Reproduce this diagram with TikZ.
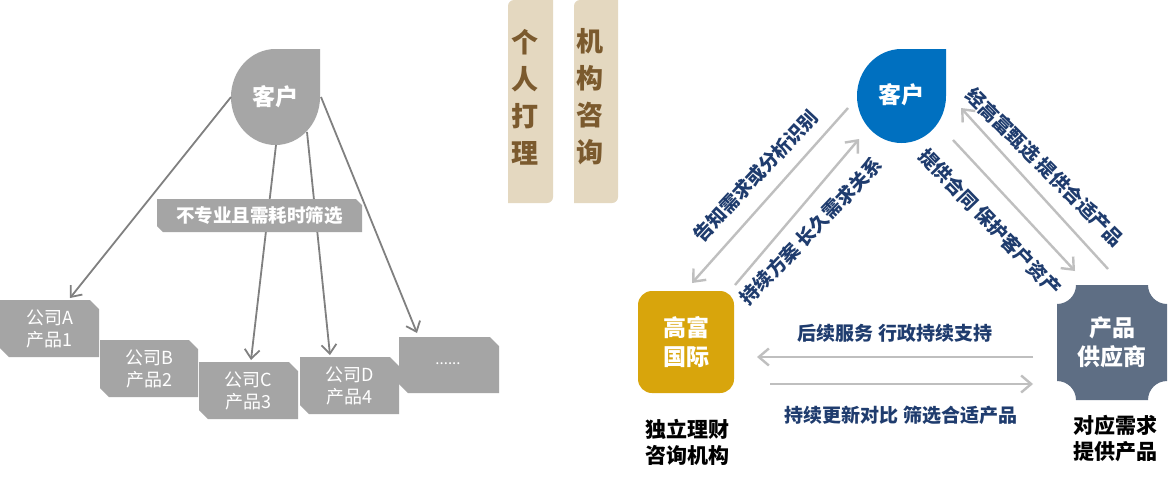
\documentclass[tikz,border=0pt]{standalone}
\usepackage{fontspec}
\setmainfont{Noto Sans CJK SC}
\usetikzlibrary{arrows.meta,calc}
\definecolor{dropgray}{HTML}{A6A6A6}
\definecolor{boxgray}{HTML}{A5A5A5}
\definecolor{arrdark}{HTML}{808080}
\definecolor{arrlight}{HTML}{BFBFBF}
\definecolor{tanfill}{HTML}{E4D8C0}
\definecolor{browntext}{HTML}{7B5A2E}
\definecolor{dropblue}{HTML}{0070C0}
\definecolor{goldfill}{HTML}{D8A50C}
\definecolor{slatefill}{HTML}{5E6E84}
\definecolor{navytext}{HTML}{1F3C6E}
\begin{document}
\begin{tikzpicture}[x=1pt,y=-1pt,
  arrL/.style={draw=arrdark, line width=1.8pt, -{Straight Barb[length=9pt,width=15pt]}},
  arrR/.style={draw=arrlight, line width=2.4pt, -{Straight Barb[length=10pt,width=17pt]}},
  snipbox/.style={inner sep=0pt, minimum width=99pt, minimum height=57pt, text=white, align=center,
    font=\fontsize{18}{22}\selectfont,
    path picture={\fill[boxgray] (path picture bounding box.north west)
      -- ([xshift=-9pt]path picture bounding box.north east)
      -- ([yshift=-9pt]path picture bounding box.north east)
      -- (path picture bounding box.south east)
      -- ([xshift=9pt]path picture bounding box.south west)
      -- ([yshift=9pt]path picture bounding box.south west) -- cycle;}},
  lblbox/.style={inner sep=0pt, minimum width=205pt, minimum height=33pt, text=white,
    font=\fontsize{18.5}{22}\selectfont\bfseries,
    path picture={\fill[boxgray] (path picture bounding box.north west)
      -- ([xshift=-6pt]path picture bounding box.north east)
      -- ([yshift=-6pt]path picture bounding box.north east)
      -- (path picture bounding box.south east)
      -- ([xshift=6pt]path picture bounding box.south west)
      -- ([yshift=6pt]path picture bounding box.south west) -- cycle;}},
  droptext/.style={circle, minimum size=92pt, inner sep=0pt, text=white, font=\fontsize{23}{26}\selectfont\bfseries},
  bartext/.style={inner sep=0pt, text=browntext, align=center, font=\fontsize{27}{37}\selectfont\bfseries},
  whitebold/.style={text=white, align=center, font=\fontsize{23}{28.5}\selectfont\bfseries},
  navylbl/.style={text=navytext, inner sep=0pt, font=\fontsize{19}{22}\selectfont\bfseries},
  blacklbl/.style={text=black, align=center, inner sep=0pt, font=\fontsize{21}{26}\selectfont\bfseries}
]
\useasboundingbox (0,0) rectangle (1170,480);
\fill[white] (0,0) rectangle (1170,480);

% ---------- left part ----------
\fill[dropgray] (275.5,49) -- (320,49) -- (320,97)
  arc[start angle=0,end angle=270,x radius=44.5,y radius=48] -- cycle;
\node[droptext] (cl) at (275.5,97) {客户};

\node[snipbox] (A) at (49.5,328.5) {公司A\\产品1};
\node[snipbox, minimum width=98pt] (B) at (149,368.5) {公司B\\产品2};
\node[snipbox] (C) at (248.5,390.5) {公司C\\产品3};
\node[snipbox] (D) at (349.5,385.5) {公司D\\产品4};
\node[snipbox, minimum width=100pt, minimum height=56pt] (E) at (449,365) {};
\node[text=white, font=\fontsize{15}{18}\selectfont, inner sep=0pt] (Edots) at (448,364) {......};

\draw[arrL] ([shift={(-44.5,0)}]cl.center) -- ([shift={(20.5,-30.5)}]A.center);
\draw[arrL] ([shift={(0.5,48)}]cl.center) -- ([shift={(2.5,-30.5)}]C.center);
\draw[arrL] ([shift={(31.5,35)}]cl.center) -- ([shift={(-19.5,-30.5)}]D.center);
\draw[arrL] ([shift={(45.5,0)}]cl.center) -- ([shift={(-32,-32)}]E.center);

\node[lblbox] (lb) at (259.5,215.5) {不专业且需耗时筛选};

% ---------- middle bars ----------
\fill[tanfill] (508,203) -- (508,6) arc[start angle=180,end angle=270,radius=6]
  -- (553,0) -- (553,197) arc[start angle=0,end angle=90,radius=6] -- cycle;
\fill[tanfill] (574,203) -- (574,6) arc[start angle=180,end angle=270,radius=6]
  -- (618,0) -- (618,197) arc[start angle=0,end angle=90,radius=6] -- cycle;
\node[bartext] (bar1) at (525,97) {个\\人\\打\\理};
\node[bartext] (bar2) at (590,97) {机\\构\\咨\\询};

% ---------- right part ----------
\fill[dropblue] (901.5,49) -- (946,49) -- (946,96)
  arc[start angle=0,end angle=270,x radius=44.5,y radius=47] -- cycle;
\node[droptext] (cr) at (901.5,95) {客户};

\fill[goldfill, rounded corners=14pt] (638,291) rectangle (734,393);
\node[whitebold, minimum width=96pt, minimum height=102pt] (gf) at (686,342) {高富\\国际};

\fill[slatefill] (1076,285) -- (1148,285) arc[start angle=180,end angle=90,radius=19]
  -- (1167,381) arc[start angle=270,end angle=180,radius=19]
  -- (1076,400) arc[start angle=0,end angle=-90,radius=19]
  -- (1057,304) arc[start angle=90,end angle=0,radius=19] -- cycle;
\node[whitebold, minimum width=110pt, minimum height=115pt] (sp) at (1112,342.5) {产品\\供应商};

\draw[arrR] ([shift={(-53.5,13)}]cr.center) -- ([shift={(6,-59)}]gf.center);
\draw[arrR] ([shift={(49,-57)}]gf.center) -- ([shift={(-42.5,44)}]cr.center);
\draw[arrR] ([shift={(51.5,45)}]cr.center) -- ([shift={(-37,-71.5)}]sp.center);
\draw[arrR] ([shift={(-4,-73.5)}]sp.center) -- ([shift={(59.5,13)}]cr.center);
\draw[arrR] ([shift={(-79,14.5)}]sp.center) -- ([shift={(71,15)}]gf.center);
\draw[arrR] ([shift={(84,42)}]gf.center) -- ([shift={(-79,41.5)}]sp.center);

\node[navylbl, rotate=47] (t1) at (756,176) {告知需求或分析识别};
\node[navylbl, rotate=46] (t2) at (811,231) {持续方案 长久需求关系};
\node[navylbl, rotate=-46] (t3) at (990,222) {提供合同 保护客户资产};
\node[navylbl, rotate=-45] (t4) at (1045,167) {经高富甄选 提供合适产品};
\node[navylbl] (t5) at (895,333) {后续服务 行政持续支持};
\node[navylbl] (t6) at (901,415) {持续更新对比 筛选合适产品};

\node[blacklbl] (l1) at (687,442) {独立理财\\咨询机构};
\node[blacklbl] (l2) at (1115,439) {对应需求\\提供产品};
\end{tikzpicture}
\end{document}
